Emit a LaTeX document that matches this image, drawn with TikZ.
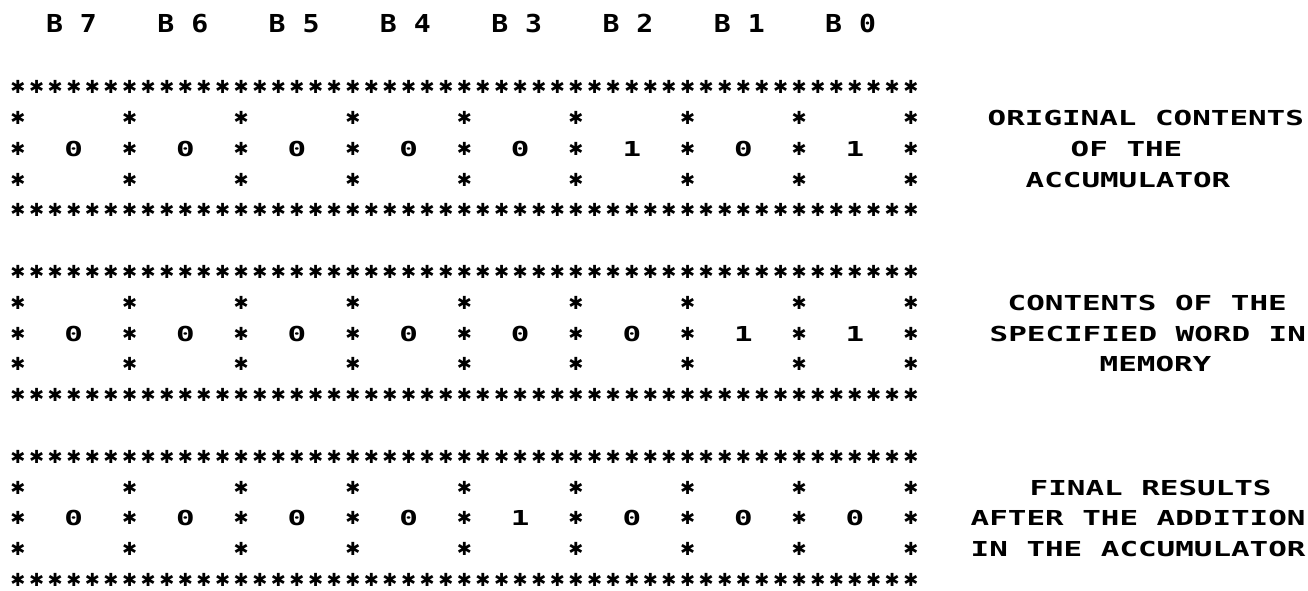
\documentclass[tikz,border=0pt]{standalone}
\usepackage{fontspec}
\usetikzlibrary{positioning}
\newfontfamily\printfont{DejaVu Sans Mono}[FakeStretch=1.5,Numbers=SlashedZero]
\newfontfamily\headfont{DejaVu Sans Mono}[FakeStretch=1.14,Numbers=SlashedZero]
\newfontfamily\starfont{DejaVu Sans}
\tikzset{
  starch/.style={inner sep=0pt,font=\starfont\fontsize{18}{18}\selectfont},
  bitch/.style={inner sep=0pt,anchor=base,font=\printfont\bfseries\fontsize{20.6}{24}\selectfont},
  headch/.style={inner sep=0pt,anchor=base,font=\headfont\bfseries\fontsize{24.7}{28}\selectfont},
  labch/.style={inner sep=0pt,anchor=base west,font=\printfont\bfseries\fontsize{20.6}{24}\selectfont}
}

\begin{document}
\begin{tikzpicture}[x=1pt,y=-1pt]
  \useasboundingbox (0,0) rectangle (1308,590);

  %% bit headers
  \foreach \d [count=\i from 0] in {7,6,5,4,3,2,1,0}
    \node[headch] (hd\d) at ({71.5+111.3*\i},32) {B \d};

  %% the three registers
  \foreach \top/\nm/\bits in {2/acc/{0,0,0,0,0,1,0,1},8/mem/{0,0,0,0,0,0,1,1},14/res/{0,0,0,0,1,0,0,0}}{
    \foreach \c in {0,...,48}{
      \node[starch] (\nm t\c) at ({18+18.6*\c},{25.5+30.8*\top}) {✱};
      \node[starch] (\nm b\c) at ({18+18.6*\c},{25.5+30.8*(\top+4)}) {✱};
    }
    \foreach \k in {1,2,3}
      \foreach \c in {0,6,...,48}
        \node[starch] (\nm s\k-\c) at ({18+18.6*\c},{25.5+30.8*(\top+\k)}) {✱};
    \foreach \b [count=\i from 0] in \bits
      \node[bitch] (\nm\i) at ({18+18.6*(6*\i+3)},{25.5+30.8*(\top+2)+7.5}) {\b};
  }

  %% captions
  \node[labch] (accA) at (987.5,125.4) {ORIGINAL CONTENTS};
  \node[labch] (accB) at (1070.5,156.2) {OF THE};
  \node[labch] (accC) at (1025.5,187) {ACCUMULATOR};
  \node[labch] (memA) at (1007.5,310.2) {CONTENTS OF THE};
  \node[labch] (memB) at (989.5,341) {SPECIFIED WORD IN};
  \node[labch] (memC) at (1099.5,371.8) {MEMORY};
  \node[labch] (resA) at (1029.5,495) {FINAL RESULTS};
  \node[labch] (resB) at (970.5,525.8) {AFTER THE ADDITION};
  \node[labch] (resC) at (970.5,556.6) {IN THE ACCUMULATOR};
\end{tikzpicture}
\end{document}
